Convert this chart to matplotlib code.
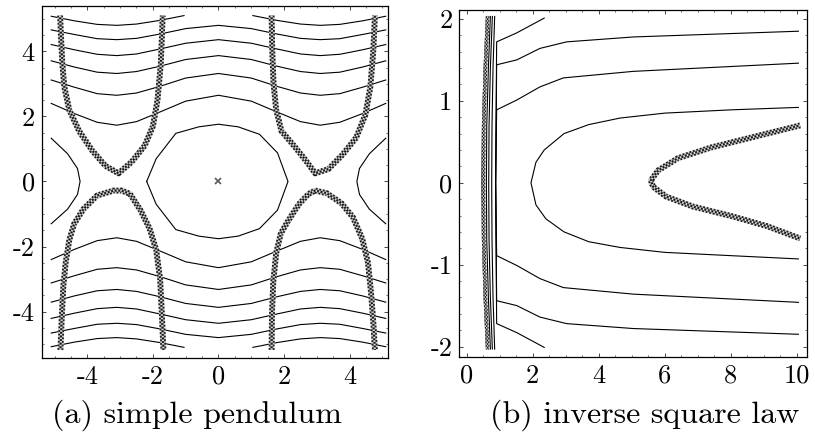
import numpy as np
import matplotlib
matplotlib.use("Agg")
import matplotlib.pyplot as plt
from matplotlib.ticker import MultipleLocator

plt.rcParams['font.family'] = ['cmr10', 'DejaVu Serif']
plt.rcParams['axes.unicode_minus'] = False

# ---- (a) simple pendulum: contour lines ----
q_grid = [-5.1, -4.4, -3.7, -3.1, -2.5, -1.8, -1.0, 0.0, 1.0, 1.8, 2.5, 3.1, 3.7, 4.4, 5.1]
p_e105 = [4.66, 4.52, 4.39, 4.36, 4.40, 4.53, 4.70, 4.80, 4.70, 4.53, 4.40, 4.36, 4.39, 4.52, 4.66]
p_e85 = [4.21, 4.05, 3.91, 3.87, 3.92, 4.07, 4.25, 4.36, 4.25, 4.07, 3.92, 3.87, 3.91, 4.05, 4.21]
p_e65 = [3.71, 3.52, 3.36, 3.32, 3.38, 3.54, 3.75, 3.87, 3.75, 3.54, 3.38, 3.32, 3.36, 3.52, 3.71]
p_e45 = [3.12, 2.90, 2.70, 2.65, 2.72, 2.92, 3.18, 3.32, 3.18, 2.92, 2.72, 2.65, 2.70, 2.90, 3.12]
p_e25 = [2.40, 2.09, 1.82, 1.73, 1.84, 2.13, 2.47, 2.65, 2.47, 2.13, 1.84, 1.73, 1.82, 2.09, 2.40]

# topmost level is cut by the plot domain in the middle
q_e125_l = [-5.1, -4.4, -3.7, -3.1, -2.5, -1.8, -1.05]
p_e125_l = [5.08, 4.94, 4.83, 4.80, 4.84, 4.95, 5.10]
q_e125_r = [1.05, 1.8, 2.5, 3.1, 3.7, 4.4, 5.1]
p_e125_r = [5.10, 4.95, 4.84, 4.80, 4.83, 4.94, 5.08]

oval_q = [-2.19, -1.9, -1.3, -0.6, 0.0, 0.6, 1.25, 1.8, 2.12, 1.8, 1.25, 0.6, 0.0, -0.6, -1.3, -1.9, -2.19]
oval_p = [0.0, 0.7, 1.48, 1.68, 1.76, 1.68, 1.45, 0.88, 0.0, -0.88, -1.45, -1.68, -1.76, -1.68, -1.48, -0.7, 0.0]
side_l_q = [-5.1, -4.6, -4.3, -4.22, -4.3, -4.6, -5.1]
side_r_q = [5.1, 4.6, 4.3, 4.22, 4.3, 4.6, 5.1]
side_p = [1.33, 0.85, 0.4, 0.0, -0.4, -0.85, -1.3]

# thick hatched curves
tl_q = [-4.83, -4.80, -4.76, -4.70, -4.55, -4.25, -3.85, -3.45, -3.05, -2.65, -2.25, -2.0, -1.86, -1.76, -1.70]
tl_p = [5.1, 4.4, 3.6, 2.9, 2.2, 1.55, 0.95, 0.48, 0.25, 0.6, 1.1, 1.7, 2.5, 3.6, 5.1]
tr_q = [1.62, 1.64, 1.68, 1.76, 1.92, 2.3, 2.62, 2.95, 3.35, 3.78, 4.2, 4.48, 4.63, 4.72, 4.77]
tr_p = [5.1, 4.0, 3.0, 2.2, 1.55, 1.1, 0.7, 0.25, 0.38, 0.82, 1.35, 2.05, 2.9, 4.0, 5.1]
bl_q = [-4.82, -4.78, -4.73, -4.66, -4.55, -4.4, -4.12, -3.7, -3.2, -2.95, -2.7, -2.38, -2.1, -1.9, -1.78, -1.73, -1.68]
bl_p = [-5.18, -4.2, -3.2, -2.5, -1.8, -1.3, -0.85, -0.43, -0.28, -0.28, -0.38, -0.88, -1.45, -2.1, -3.0, -4.0, -5.18]
br_q = [1.62, 1.63, 1.67, 1.76, 1.9, 2.1, 2.45, 2.75, 2.95, 3.3, 3.75, 4.1, 4.38, 4.56, 4.65, 4.72, 4.77]
br_p = [-5.18, -4.1, -3.1, -2.2, -1.6, -1.25, -0.7, -0.38, -0.28, -0.36, -0.67, -1.1, -1.75, -2.5, -3.4, -4.3, -5.18]

ticks_a = [-4, -2, 0, 2, 4]
ticklabels_a = ['-4', '-2', '0', '2', '4']

# ---- (b) inverse square law ----
inner_q = [10.05, 8.0, 6.0, 4.65, 3.7, 2.95, 2.35, 2.1, 1.95, 2.1, 2.4, 2.95, 3.7, 4.65, 6.0, 8.0, 10.05]
inner_p = [0.92, 0.89, 0.85, 0.79, 0.71, 0.60, 0.40, 0.25, 0.0, -0.27, -0.44, -0.60, -0.72, -0.79, -0.85, -0.89, -0.93]
c_q = [10.05, 5.05, 2.93, 2.22, 1.52, 0.91, 0.88, 0.91, 1.52, 2.22, 2.93, 5.05, 10.05]
c_p = [1.46, 1.36, 1.28, 1.17, 1.01, 0.89, 0.0, -0.89, -1.01, -1.17, -1.28, -1.36, -1.46]
b_q = [10.05, 5.05, 3.03, 2.22, 1.52, 0.91, 0.88, 0.91, 1.52, 2.22, 3.03, 5.05, 10.05]
b_p = [1.85, 1.78, 1.72, 1.64, 1.50, 1.44, 0.0, -1.44, -1.50, -1.64, -1.72, -1.78, -1.85]
a_q = [2.35, 1.52, 0.91, 0.88, 0.91, 1.52, 2.35]
a_p = [2.01, 1.83, 1.72, 0.0, -1.72, -1.83, -2.01]

wall_p = [2.03, 1.4, 0.7, 0.0, -0.7, -1.4, -2.03]
wall_q = [
    [0.60, 0.53, 0.48, 0.46, 0.48, 0.53, 0.60],
    [0.66, 0.59, 0.54, 0.53, 0.54, 0.59, 0.66],
    [0.72, 0.66, 0.61, 0.60, 0.61, 0.66, 0.72],
    [0.78, 0.72, 0.68, 0.67, 0.68, 0.72, 0.78],
    [0.85, 0.80, 0.77, 0.76, 0.77, 0.80, 0.85],
]
wall_thick_q = [0.64, 0.57, 0.52, 0.51, 0.52, 0.57, 0.64]

kt_q = [10.1, 8.6, 7.4, 6.4, 5.8, 5.58, 5.65, 6.05, 6.85, 8.05, 9.1, 10.1]
kt_p = [0.70, 0.55, 0.43, 0.30, 0.15, 0.03, -0.05, -0.17, -0.29, -0.41, -0.53, -0.68]

xticks_b = [0, 2, 4, 6, 8, 10]
xticklabels_b = ['0', '2', '4', '6', '8', '10']
yticks_b = [-2, -1, 0, 1, 2]
yticklabels_b = ['-2', '-1', '0', '1', '2']


def thin(ax, x, y):
    ax.plot(x, y, color='black', lw=0.8, solid_joinstyle='miter')


def hatched(ax, x, y, lw=4.2):
    # checker-like band: dark dots on the edges, dark dots in the middle shifted by half a period
    per = 1.3  # points
    ax.plot(x, y, color='0.8', lw=lw, solid_capstyle='butt')
    ax.plot(x, y, color='0.1', lw=lw, ls=(0, (per / lw, per / lw)), dash_capstyle='butt')
    cw = lw * 0.38
    ax.plot(x, y, color='0.85', lw=cw, ls=(0, (per / cw, per / cw)), dash_capstyle='butt')
    ax.plot(x, y, color='0.1', lw=cw, ls=(per / cw, (per / cw, per / cw)), dash_capstyle='butt')


def style(ax):
    for s in ax.spines.values():
        s.set_linewidth(0.9)
    ax.tick_params(which='major', direction='in', length=3, width=0.5,
                   labelsize=19, pad=5, top=True, right=True)
    ax.tick_params(which='minor', direction='in', length=1.5, width=0.4,
                   top=True, right=True)


fig = plt.figure(figsize=(8.15, 4.41), dpi=100)
ax1 = fig.add_axes([0.0512, 0.188, 0.4249, 0.7973])
ax2 = fig.add_axes([0.5636, 0.190, 0.4262, 0.7875])

# panel a
for p in [p_e105, p_e85, p_e65, p_e45, p_e25]:
    thin(ax1, q_grid, p)
    thin(ax1, q_grid, -np.array(p))
thin(ax1, q_e125_l, p_e125_l)
thin(ax1, q_e125_r, p_e125_r)
thin(ax1, q_e125_l, -np.array(p_e125_l))
thin(ax1, q_e125_r, -np.array(p_e125_r))
thin(ax1, oval_q, oval_p)
thin(ax1, side_l_q, side_p)
thin(ax1, side_r_q, side_p)
for qq, pp in [(tl_q, tl_p), (tr_q, tr_p), (bl_q, bl_p), (br_q, br_p)]:
    hatched(ax1, qq, pp)
ax1.plot([0], [0], marker='x', ms=4, mew=1.2, color='0.35', ls='none')

ax1.set_xlim(-5.39, 5.17)
ax1.set_ylim(-5.43, 5.38)
ax1.set_xticks(ticks_a)
ax1.set_xticklabels(ticklabels_a)
ax1.set_yticks(ticks_a)
ax1.set_yticklabels(ticklabels_a)
ax1.xaxis.set_minor_locator(MultipleLocator(0.5))
ax1.yaxis.set_minor_locator(MultipleLocator(0.5))
style(ax1)

# panel b
for wq in wall_q:
    thin(ax2, wq, wall_p)
hatched(ax2, wall_thick_q, wall_p, lw=2.6)
thin(ax2, a_q, a_p)
thin(ax2, b_q, b_p)
thin(ax2, c_q, c_p)
thin(ax2, inner_q, inner_p)
hatched(ax2, kt_q, kt_p)

ax2.set_xlim(-0.22, 10.3)
ax2.set_ylim(-2.13, 2.11)
ax2.set_xticks(xticks_b)
ax2.set_xticklabels(xticklabels_b)
ax2.set_yticks(yticks_b)
ax2.set_yticklabels(yticklabels_b)
ax2.xaxis.set_minor_locator(MultipleLocator(0.5))
ax2.yaxis.set_minor_locator(MultipleLocator(0.2))
style(ax2)

fig.text(0.2413, 0.059, '(a) simple pendulum', ha='center', va='center', fontsize=23)
fig.text(0.7914, 0.059, '(b) inverse square law', ha='center', va='center', fontsize=23)

fig.savefig('out.png', dpi=100)
